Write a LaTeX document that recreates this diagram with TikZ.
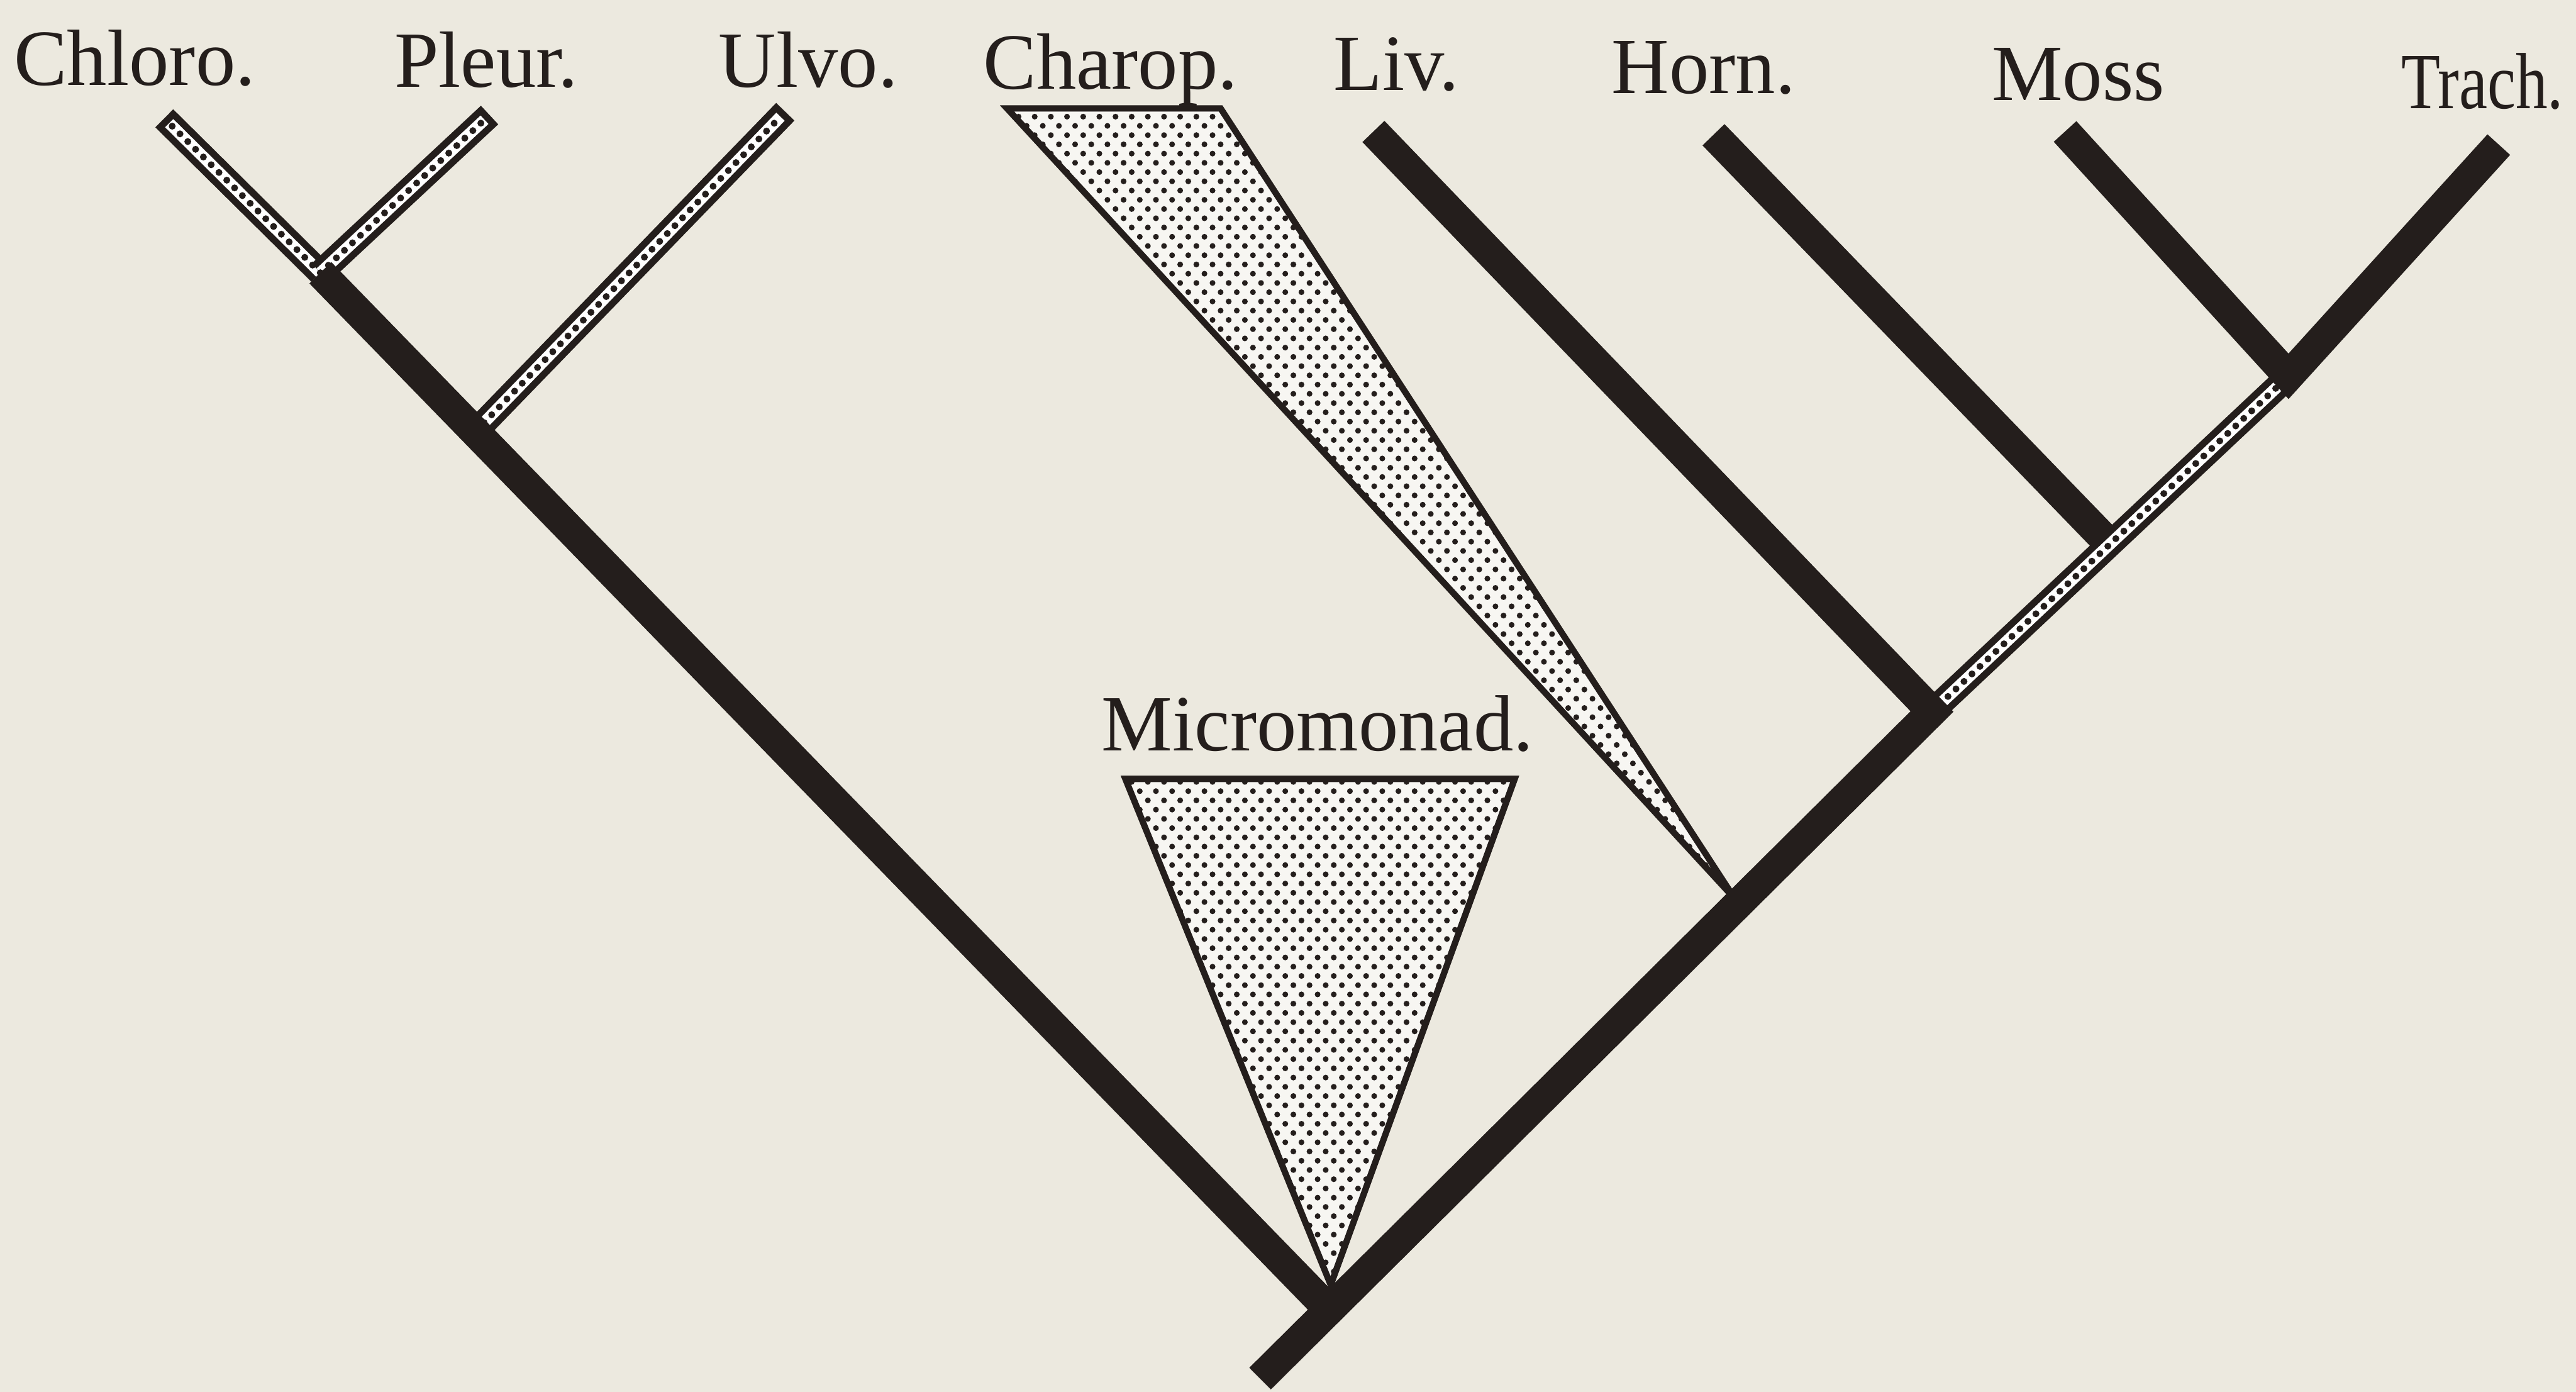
\documentclass[tikz,border=0pt]{standalone}
\usepackage{fontspec}
\setmainfont{Liberation Serif}
\usepackage{tikz}
\usetikzlibrary{patterns}

\definecolor{paper}{RGB}{236,233,223}
\definecolor{ink}{RGB}{36,30,28}

% staggered stipple for the wedges
\pgfdeclarepatternformonly{stipple}{\pgfqpoint{-1pt}{-1pt}}{\pgfqpoint{3.8pt}{4.2pt}}{\pgfqpoint{2.8pt}{3.2pt}}{
	\pgfpathcircle{\pgfqpoint{0pt}{0pt}}{.5pt}
	\pgfpathcircle{\pgfqpoint{1.4pt}{1.6pt}}{.5pt}
	\pgfusepath{fill}}

\begin{document}
\begin{tikzpicture}[x=0.1mm, y=-0.1mm,
		taxon/.style={font=\fontsize{13.8}{16}\selectfont, text=ink, anchor=base, inner sep=0pt},
		stem/.style={draw=ink, line width=5.3pt, line join=miter},
		hatched/.style={draw=ink, line width=4.4pt,
			postaction={draw=white, line width=2pt, shorten >=1.2pt},
			postaction={draw=ink, line width=1.2pt, line cap=round, dash pattern=on 0pt off 1.9pt, shorten >=1.5pt}},
		clade/.style={draw=ink, line width=1.1pt, line join=miter, preaction={fill=white!60!paper}, pattern=stipple, pattern color=ink}]
	\fill[paper] (0,0) rectangle (1568,847);
	\useasboundingbox (0,0) rectangle (1568,847);

	% junctions and branch ends
	\coordinate (base) at (767,839);
	\coordinate (root) at (810,798);
	\coordinate (jChl) at (195,166);
	\coordinate (jUlv) at (290,262);
	\coordinate (jChr) at (1056,547);
	\coordinate (jLiv) at (1176,433);
	\coordinate (jHrn) at (1284,331);
	\coordinate (jMos) at (1393,229);
	\coordinate (tChloro) at (100,72);
	\coordinate (tPleur) at (298,70);
	\coordinate (tUlvo) at (478,68);
	\coordinate (tLiv) at (836,80);
	\coordinate (tHorn) at (1043,82);
	\coordinate (tMoss) at (1257,80);
	\coordinate (tTrach) at (1521,88);

	% labels
	\node[taxon] (chloro) at (82,52) {Chloro.};
	\node[taxon] (pleur) at (296,53) {Pleur.};
	\node[taxon] (ulvo) at (492,53) {Ulvo.};
	\node[taxon] (charop) at (676,54) {Charop.};
	\node[taxon] (liv) at (850,55) {Liv.};
	\node[taxon] (horn) at (1037,57) {Horn.};
	\node[taxon] (moss) at (1265,61) {Moss};
	\node[taxon] (trach) at (1511,66) {\scalebox{.8}[1]{Trach.}};
	\node[taxon] (micro) at (802,457) {Micromonad.};

	% clades drawn as wedges
	\draw[clade] (613,66) -- (743,66) -- (jChr) -- cycle;
	\draw[clade] (685,474) -- (922,474) -- (810,782) -- cycle;

	% algal branches
	\draw[hatched] (jChl) -- (tChloro);
	\draw[hatched] (jChl) -- (tPleur);
	\draw[hatched] (jUlv) -- (tUlvo);

	% land plants
	\draw[stem] (jHrn) -- (tHorn);
	\draw[hatched] (jLiv) -- (jMos);
	\draw[stem] (tMoss) -- (jMos) -- (tTrach);
	\draw[stem] (jChl) -- (root);
	\draw[stem] (base) -- (jLiv) -- (tLiv);
\end{tikzpicture}
\end{document}
